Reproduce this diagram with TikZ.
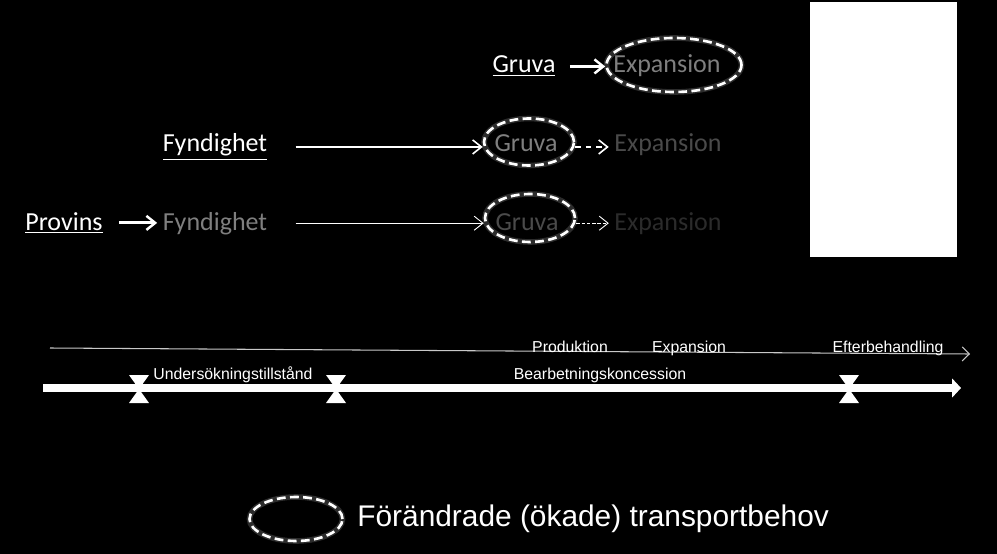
\documentclass[tikz,border=0pt]{standalone}
\usepackage{fontspec}
\setmainfont{Carlito}
\newfontfamily\arialfont{Liberation Sans}
\usetikzlibrary{positioning, arrows.meta, shapes.geometric}
\definecolor{MidGray}{HTML}{7F7F7F}
\definecolor{DarkGray}{HTML}{4A4A4A}
\definecolor{DeepGray}{HTML}{2B2B2B}
\definecolor{LineGray}{HTML}{C8C8C8}

\begin{document}
\begin{tikzpicture}[x=0.02cm, y=-0.02cm,
    lbl/.style={text=white, font=\fontsize{14.8}{17}\selectfont, inner sep=1pt, anchor=base},
    ring/.style={ellipse, draw=white, line width=1.5pt, dash pattern=on 5pt off 2.5pt,
                 inner sep=0pt,
                 preaction={draw=gray, line width=3.2pt, opacity=0.35, solid}},
    small/.style={text=white, font=\arialfont\fontsize{9}{11}\selectfont, inner sep=1pt, anchor=base},
    bigarrow/.style={-{Straight Barb[length=5pt, width=8pt, line width=1.4pt]}, white, line width=1.8pt},
    thinarrow/.style={-{Straight Barb[length=5pt, width=8pt]}, white}]
  \fill[black] (0,0) rectangle (997,554);

  % upper row
  \node[lbl] (gruva1) at (524,73) {\underline{Gruva}};
  \node[ring, minimum width=2.7cm, minimum height=1.08cm] (ring1) at (674,65) {};
  \node[lbl, text=MidGray] (exp1) at (667,73) {Expansion};
  \draw[bigarrow, shorten <=7pt] (gruva1.east) -- (gruva1.east -| ring1.west);

  % middle row
  \node[lbl] (fynd2) at (215,152) {\underline{Fyndighet}};
  \node[ring, minimum width=1.8cm, minimum height=0.94cm] (ring2) at (529,142) {};
  \node[lbl, text=MidGray] (gruva2) at (526,152) {Gruva};
  \node[lbl, text=DarkGray] (exp2) at (668,152) {Expansion};
  \draw[thinarrow, line width=0.9pt, shorten <=15pt] (fynd2.east) -- (fynd2.east -| ring2.west);
  \draw[thinarrow, line width=0.9pt, dashed, shorten >=2pt] (ring2.east |- fynd2.east) -- (fynd2.east -| exp2.west);

  % lower row
  \node[lbl] (prov3) at (64,230) {\underline{Provins}};
  \node[lbl, text=MidGray] (fynd3) at (215,230) {Fyndighet};
  \node[ring, minimum width=1.8cm, minimum height=0.96cm] (ring3) at (530,218) {};
  \node[lbl, text=DarkGray] (gruva3) at (527,230) {Gruva};
  \node[lbl, text=DeepGray] (exp3) at (668,230) {Expansion};
  \draw[bigarrow, shorten <=8pt, shorten >=2pt] (prov3.east) -- (prov3.east -| fynd3.west);
  \draw[thinarrow, line width=0.5pt, shorten <=15pt] (fynd3.east) -- (fynd3.east -| ring3.west);
  \draw[thinarrow, line width=0.5pt, dash pattern=on 2pt off 1pt, shorten >=2pt] (ring3.east |- fynd3.east) -- (fynd3.east -| exp3.west);

  \fill[white] (810,2) rectangle (957,257);

  % time line
  \coordinate (tl0) at (50,348);
  \coordinate (tl1) at (970,354);
  \draw[LineGray, line width=0.6pt, -{Straight Barb[length=4pt, width=8pt]}] (tl0) -- (tl1);
  \node[small] (prod) at (570,352) {Produktion};
  \node[small] (expt) at (689,352) {Expansion};
  \node[small] (efter) at (888,352) {Efterbehandling};

  \coordinate (bar0) at (43,388);
  \coordinate (bar1) at (961,388);
  \draw[white, line width=5pt, -{Triangle[length=5pt, width=10.5pt]}] (bar0) -- (bar1);
  \foreach \mx in {139,336,849}
    \fill[white] (\mx-10,375) -- (\mx+10,375) -- (\mx,389) -- (\mx+10,403)
                 -- (\mx-10,403) -- (\mx,389) -- cycle;
  \node[small] (unders) at (233,379) {Undersökningstillstånd};
  \node[small] (bearb) at (600,379) {Bearbetningskoncession};

  % legend
  \node[ring, minimum width=1.86cm, minimum height=0.88cm] (key) at (296,519) {};
  \node[text=white, font=\arialfont\fontsize{17}{20}\selectfont, anchor=base west, inner sep=0pt]
    (keytext) at (357,526) {Förändrade (ökade) transportbehov};
\end{tikzpicture}
\end{document}
